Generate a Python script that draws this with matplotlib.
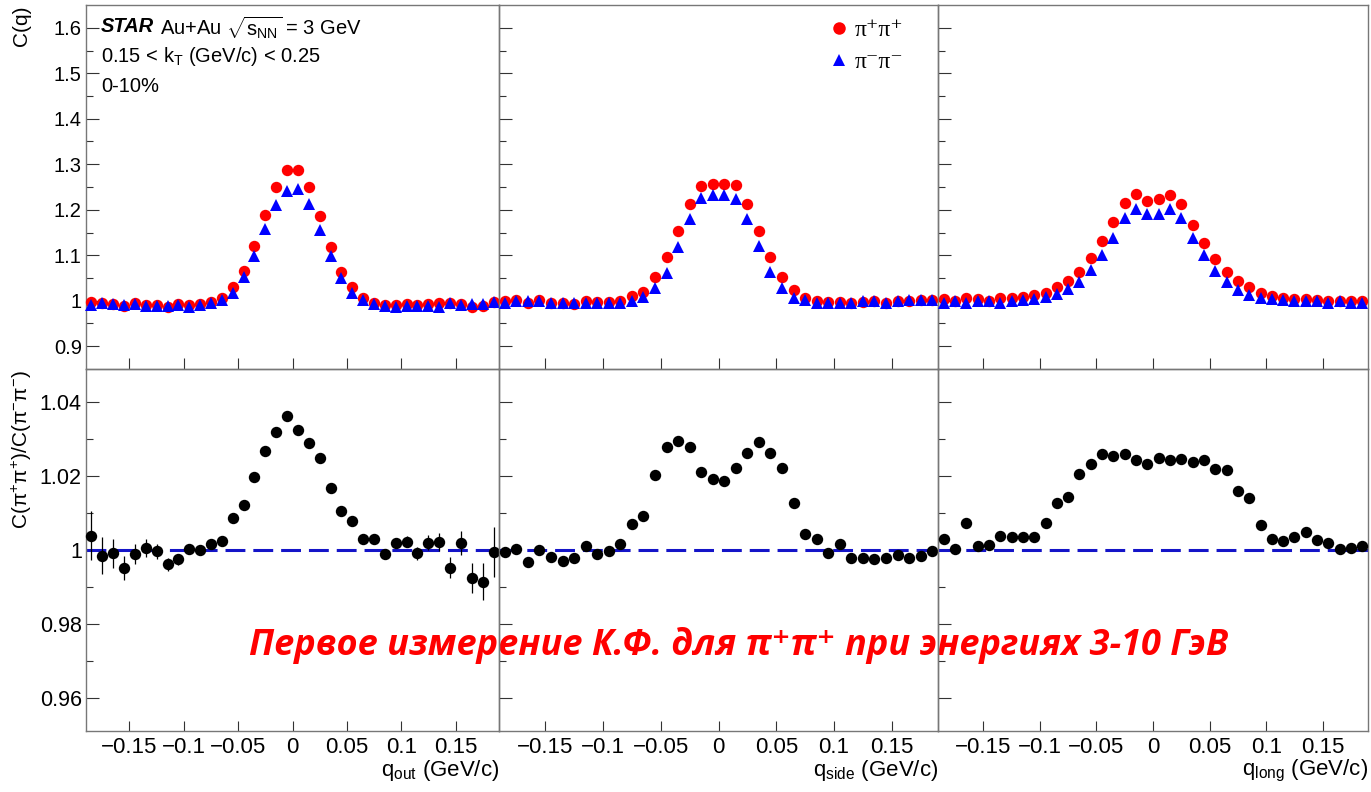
import numpy as np
import matplotlib
matplotlib.use("Agg")
import matplotlib.pyplot as plt
from matplotlib.ticker import FixedLocator, FuncFormatter
from matplotlib.lines import Line2D

plt.rcParams['font.family'] = ['Liberation Sans', 'DejaVu Sans']
plt.rcParams['mathtext.fontset'] = 'custom'
plt.rcParams['mathtext.rm'] = 'Liberation Sans'
plt.rcParams['mathtext.it'] = 'Liberation Sans:italic'
plt.rcParams['mathtext.bf'] = 'Liberation Sans:bold'

# bin centres, 0.01 GeV/c bins from -0.19 to 0.19
q = np.linspace(-0.185, 0.185, 38)

# C(q) pi+pi+ (red) and pi-pi- (blue) for out / side / long
out_pp = [0.998, 0.996, 0.993, 0.988, 0.995, 0.991, 0.991, 0.986, 0.992, 0.990,
          0.993, 0.998, 1.006, 1.030, 1.066, 1.121, 1.188, 1.249, 1.288, 1.287,
          1.249, 1.186, 1.119, 1.064, 1.030, 1.006, 0.996, 0.991, 0.991, 0.993,
          0.991, 0.993, 0.995, 0.995, 0.993, 0.986, 0.988, 0.998]
out_mm = [0.991, 0.995, 0.993, 0.991, 0.993, 0.989, 0.989, 0.989, 0.991, 0.986,
          0.991, 0.995, 1.002, 1.018, 1.052, 1.099, 1.157, 1.210, 1.242, 1.245,
          1.212, 1.155, 1.099, 1.051, 1.018, 1.002, 0.993, 0.989, 0.986, 0.989,
          0.988, 0.989, 0.986, 0.996, 0.991, 0.993, 0.993, 0.998]
side_pp = [1.000, 1.001, 0.995, 1.001, 0.996, 0.996, 0.993, 0.999, 0.998, 0.998,
           1.000, 1.011, 1.020, 1.052, 1.096, 1.154, 1.212, 1.253, 1.256, 1.256,
           1.255, 1.212, 1.154, 1.096, 1.052, 1.024, 1.006, 1.000, 0.998, 0.998,
           0.995, 0.998, 0.999, 0.995, 1.000, 0.999, 1.002, 1.001]
side_mm = [0.996, 1.000, 0.999, 1.000, 0.996, 0.996, 0.995, 0.996, 0.996, 0.996,
           0.996, 0.999, 1.009, 1.028, 1.062, 1.119, 1.179, 1.225, 1.232, 1.232,
           1.223, 1.179, 1.120, 1.064, 1.028, 1.006, 1.001, 0.995, 0.996, 0.995,
           0.996, 0.999, 0.999, 0.995, 0.999, 1.001, 1.002, 1.001]
long_pp = [1.004, 1.000, 1.006, 1.004, 1.000, 1.006, 1.006, 1.008, 1.012, 1.018,
           1.030, 1.044, 1.064, 1.095, 1.131, 1.172, 1.214, 1.234, 1.220, 1.223,
           1.232, 1.212, 1.166, 1.128, 1.092, 1.064, 1.044, 1.030, 1.018, 1.011,
           1.006, 1.004, 1.004, 1.002, 1.000, 1.000, 0.999, 1.000]
long_mm = [0.996, 0.999, 0.995, 0.999, 0.999, 0.996, 0.999, 1.001, 1.004, 1.009,
           1.015, 1.026, 1.041, 1.068, 1.101, 1.139, 1.181, 1.201, 1.191, 1.191,
           1.201, 1.181, 1.139, 1.101, 1.066, 1.041, 1.024, 1.013, 1.007, 1.004,
           1.001, 0.999, 0.999, 0.999, 0.996, 0.999, 0.995, 0.996]

# ratio C(pi+pi+)/C(pi-pi-)
out_ratio = [1.0039, 0.9985, 0.9991, 0.9952, 0.9989, 1.0006, 0.9997, 0.9961, 0.9975, 1.0003,
             1.0000, 1.0016, 1.0025, 1.0087, 1.0121, 1.0198, 1.0267, 1.0319, 1.0361, 1.0324,
             1.0289, 1.0247, 1.0166, 1.0106, 1.0078, 1.0030, 1.0029, 0.9989, 1.0018, 1.0022,
             0.9991, 1.0020, 1.0022, 0.9952, 1.0018, 0.9925, 0.9915, 0.9994]
out_err = [0.0067, 0.0050, 0.0040, 0.0032, 0.0028, 0.0025, 0.0020, 0.0018, 0.0015, 0.0013,
           0.0012, 0.0010, 0.0010, 0.0009, 0.0008, 0.0007, 0.0007, 0.0006, 0.0006, 0.0006,
           0.0006, 0.0007, 0.0007, 0.0008, 0.0009, 0.0010, 0.0010, 0.0012, 0.0013, 0.0015,
           0.0018, 0.0020, 0.0025, 0.0028, 0.0032, 0.0040, 0.0050, 0.0067]
side_ratio = [0.9994, 1.0003, 0.9967, 1.0000, 0.9982, 0.9970, 0.9979, 1.0011, 0.9988, 0.9998,
              1.0015, 1.0070, 1.0093, 1.0202, 1.0279, 1.0294, 1.0277, 1.0209, 1.0191, 1.0187,
              1.0222, 1.0261, 1.0290, 1.0261, 1.0220, 1.0126, 1.0042, 1.0029, 0.9991, 1.0015,
              0.9979, 0.9978, 0.9976, 0.9979, 0.9987, 0.9978, 0.9985, 0.9998]
long_ratio = [1.0031, 1.0002, 1.0072, 1.0012, 1.0013, 1.0039, 1.0036, 1.0036, 1.0034, 1.0072,
              1.0126, 1.0144, 1.0206, 1.0231, 1.0258, 1.0253, 1.0258, 1.0243, 1.0232, 1.0247,
              1.0243, 1.0245, 1.0236, 1.0243, 1.0218, 1.0216, 1.0160, 1.0139, 1.0067, 1.0031,
              1.0024, 1.0036, 1.0049, 1.0027, 1.0020, 1.0002, 1.0006, 1.0011]

xlabels = [r'q$_{\mathrm{out}}$ (GeV/c)', r'q$_{\mathrm{side}}$ (GeV/c)', r'q$_{\mathrm{long}}$ (GeV/c)']
top_data = [(out_pp, out_mm), (side_pp, side_mm), (long_pp, long_mm)]
bot_data = [(out_ratio, out_err), (side_ratio, None), (long_ratio, None)]


def fmt(v, pos):
    if abs(v) < 1e-9:
        return '0'
    return f'{v:g}'.replace('-', '\u2212')


fig = plt.figure(figsize=(13.71, 7.92), dpi=100)

# panel edges in pixels (left, right)
cols = [(86, 499), (499, 938), (938, 1368)]
W, H = 1371, 792
frame = '#777777'

for i, (x0, x1) in enumerate(cols):
    axt = fig.add_axes([x0 / W, 1 - 369 / H, (x1 - x0) / W, 364 / H])
    axb = fig.add_axes([x0 / W, 1 - 731 / H, (x1 - x0) / W, 362 / H])

    pp, mm = top_data[i]
    axt.plot(q, pp, 'o', color='#ff0000', ms=8.2, mew=0, clip_on=False, zorder=3)
    axt.plot(q, mm, '^', color='#0000ff', ms=8.2, mew=0, clip_on=False, zorder=4)

    r, e = bot_data[i]
    axb.axhline(1.0, color='#1414c8', lw=2.2, dashes=(6.5, 2.6), zorder=2)
    if e is not None:
        axb.errorbar(q, r, yerr=e, fmt='o', color='black', ms=8.2, mew=0,
                     elinewidth=0.9, capsize=0, clip_on=False, zorder=3)
    else:
        axb.plot(q, r, 'o', color='black', ms=8.2, mew=0, clip_on=False, zorder=3)

    for ax in (axt, axb):
        ax.set_facecolor('none')
        ax.set_xlim(-0.19, 0.19)
        ax.xaxis.set_major_locator(FixedLocator([-0.15, -0.1, -0.05, 0, 0.05, 0.1, 0.15]))
        ax.xaxis.set_major_formatter(FuncFormatter(fmt))
        ax.yaxis.set_major_formatter(FuncFormatter(fmt))
        for s in ax.spines.values():
            s.set_color(frame)
            s.set_linewidth(1.0)
        ax.tick_params(which='both', direction='in', color='#333333', width=0.8)
        ax.tick_params(axis='y', which='major', length=9.5, pad=3)
        ax.tick_params(axis='y', which='minor', length=5)

    axt.set_ylim(0.85, 1.65)
    axt.yaxis.set_major_locator(FixedLocator([0.9, 1.0, 1.1, 1.2, 1.3, 1.4, 1.5, 1.6]))
    axt.yaxis.set_minor_locator(FixedLocator([0.95, 1.05, 1.15, 1.25, 1.35, 1.45, 1.55]))
    axt.tick_params(axis='x', length=8, labelbottom=False)
    axt.tick_params(axis='y', labelsize=14.5)

    axb.set_ylim(0.9512, 1.0488)
    axb.yaxis.set_major_locator(FixedLocator([0.96, 0.98, 1.0, 1.02, 1.04]))
    axb.yaxis.set_minor_locator(FixedLocator([0.97, 0.99, 1.01, 1.03]))
    axb.tick_params(axis='x', length=7, labelsize=16, pad=4)
    axb.tick_params(axis='y', labelsize=15.5)
    axb.text(1.0, -0.075, xlabels[i], transform=axb.transAxes, ha='right', va='top', fontsize=16)

    if i > 0:
        axt.tick_params(axis='y', labelleft=False)
        axb.tick_params(axis='y', labelleft=False)

    if i == 0:
        st = axt.text(0.036, 0.9266, 'STAR', transform=axt.transAxes, fontsize=14.5,
                      fontweight='bold', style='italic', va='baseline')
        axt.annotate(r'Au+Au $\sqrt{\mathrm{s}_{\mathrm{NN}}}$ = 3 GeV', xy=(1, 0), xycoords=st,
                     xytext=(4, 0), textcoords='offset points', fontsize=14.5, va='baseline')
        axt.text(0.036, 0.844, r'0.15 < k$_{\mathrm{T}}$ (GeV/c) < 0.25', transform=axt.transAxes,
                 fontsize=14.5, va='baseline')
        axt.text(0.036, 0.762, '0-10%', transform=axt.transAxes, fontsize=14.5, va='baseline')
    if i == 1:
        handles = [Line2D([], [], marker='o', color='#ff0000', ls='none', ms=9, mew=0),
                   Line2D([], [], marker='^', color='#0000ff', ls='none', ms=9, mew=0)]
        axt.legend(handles, ['π⁺π⁺', 'π⁻π⁻'], loc='upper left', bbox_to_anchor=(0.75, 0.96),
                   frameon=False, handlelength=0.9, handletextpad=0.2, labelspacing=0.45,
                   borderpad=0, borderaxespad=0,
                   prop=dict(family=['Liberation Serif', 'DejaVu Serif'], size=17))

fig.text(0.016, 1 - 5 / H, 'C(q)', rotation=90, ha='center', va='top', fontsize=15)
fig.text(0.016, 1 - 370 / H, r'C($\mathrm{\pi}^{+}\mathrm{\pi}^{+}$)/C($\mathrm{\pi}^{-}\mathrm{\pi}^{-}$)',
         rotation=90, ha='center', va='top', fontsize=15)

fig.text(0.5385, 1 - 646 / H, 'Первое измерение К.Ф. для π⁺π⁺ при энергиях 3-10 ГэВ',
         color='#ff0000', fontsize=26, fontweight='bold', style='italic',
         family=['Open Sans', 'DejaVu Sans'], ha='center', va='center', zorder=-1)

fig.savefig('out.png', dpi=100)
